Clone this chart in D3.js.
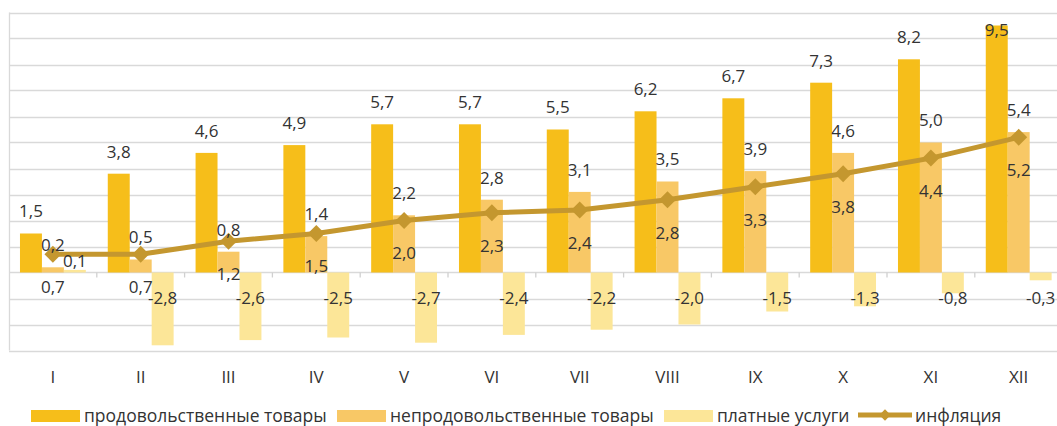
<!DOCTYPE html>
<html>
<head>
    <meta charset="utf-8">
    <script src="https://d3js.org/d3.v7.min.js"></script>
    <style>
        body { margin: 0; background: #fff; }
        text { font-family: "Open Sans", "Noto Sans", sans-serif; fill: #333; }
    </style>
</head>
<body>
    <div id="chart"></div>
    <script>
        const months = ["I", "II", "III", "IV", "V", "VI", "VII", "VIII", "IX", "X", "XI", "XII"];
        const food = [1.5, 3.8, 4.6, 4.9, 5.7, 5.7, 5.5, 6.2, 6.7, 7.3, 8.2, 9.5];
        const nonFood = [0.2, 0.5, 0.8, 1.4, 2.2, 2.8, 3.1, 3.5, 3.9, 4.6, 5.0, 5.4];
        const services = [0.1, -2.8, -2.6, -2.5, -2.7, -2.4, -2.2, -2.0, -1.5, -1.3, -0.8, -0.3];
        const inflation = [0.7, 0.7, 1.2, 1.5, 2.0, 2.3, 2.4, 2.8, 3.3, 3.8, 4.4, 5.2];
        const seriesNames = ["продовольственные товары", "непродовольственные товары", "платные услуги", "инфляция"];

        const W = 1057, H = 426;
        const colors = ["#F6BE1A", "#F8C866", "#FCE698"];
        const lineColor = "#C4972F";

        const svg = d3.select("#chart").append("svg")
            .attr("width", W).attr("height", H);

        const x = d3.scaleBand().domain(months).range([9, 1062.6]);
        const xs = d3.scaleBand().domain([0, 1, 2]).range([0, x.bandwidth()]).paddingOuter(0.5);
        const y = d3.scaleLinear().domain([-3, 10]).range([350.5, 12.5]);
        const fmt = v => d3.format(".1f")(v).replace(".", ",").replace("−", "-");

        // gridlines
        svg.append("g").selectAll("line")
            .data(d3.range(-3, 11))
            .enter().append("line")
            .attr("x1", 9).attr("x2", W)
            .attr("y1", d => Math.round(y(d)) + 0.5).attr("y2", d => Math.round(y(d)) + 0.5)
            .style("stroke", "#D9D9D9").style("stroke-width", 1.3);
        svg.append("line")
            .attr("x1", 9.5).attr("x2", 9.5).attr("y1", y(10)).attr("y2", y(-3))
            .style("stroke", "#D9D9D9").style("stroke-width", 1.3);

        // x axis ticks on zero line
        svg.append("g").selectAll("line")
            .data(months.slice(1))
            .enter().append("line")
            .attr("x1", d => x(d)).attr("x2", d => x(d))
            .attr("y1", y(0)).attr("y2", y(0) + 5)
            .style("stroke", "#D0D0D0").style("stroke-width", 1.3);

        // x labels
        svg.append("g").selectAll("text")
            .data(months)
            .enter().append("text")
            .attr("x", d => x(d) + x.bandwidth() / 2)
            .attr("y", 377)
            .attr("dy", "0.35em")
            .style("text-anchor", "middle")
            .style("font-size", "17px")
            .text(d => d);

        const barSeries = [food, nonFood, services];
        barSeries.forEach((vals, s) => {
            svg.append("g").selectAll("rect")
                .data(vals)
                .enter().append("rect")
                .attr("x", (d, i) => x(months[i]) + xs(s))
                .attr("width", xs.bandwidth())
                .attr("y", d => y(Math.max(0, d)))
                .attr("height", d => Math.abs(y(d) - y(0)))
                .style("fill", colors[s]);
        });

        // inflation line
        const line = d3.line()
            .x((d, i) => x(months[i]) + x.bandwidth() / 2)
            .y(d => y(d));
        svg.append("path")
            .datum(inflation)
            .attr("d", line)
            .style("fill", "none")
            .style("stroke", lineColor)
            .style("stroke-width", 5);
        svg.append("g").selectAll("path")
            .data(inflation)
            .enter().append("path")
            .attr("transform", (d, i) => `translate(${x(months[i]) + x.bandwidth() / 2},${y(d)}) rotate(45)`)
            .attr("d", "M-6,-6H6V6H-6Z")
            .style("fill", lineColor);

        // data labels (clamped so the top one stays inside the plot)
        const labels = svg.append("g").style("font-size", "17px").style("text-anchor", "middle");
        food.forEach((v, i) => {
            labels.append("text").attr("x", x(months[i]) + xs(0) + xs.bandwidth() / 2)
                .attr("y", Math.max(y(v) - 22, 30)).attr("dy", "0.35em").text(fmt(v));
        });
        nonFood.forEach((v, i) => {
            labels.append("text").attr("x", x(months[i]) + xs(1) + xs.bandwidth() / 2)
                .attr("y", y(v) - 22).attr("dy", "0.35em").text(fmt(v));
        });
        services.forEach((v, i) => {
            labels.append("text").attr("x", x(months[i]) + xs(2) + xs.bandwidth() / 2)
                .attr("y", v < 0 ? y(-1) : y(v) - 9).attr("dy", "0.35em").text(fmt(v));
        });
        inflation.forEach((v, i) => {
            labels.append("text").attr("x", x(months[i]) + x.bandwidth() / 2)
                .attr("y", y(v) + 33).attr("dy", "0.35em").text(fmt(v));
        });

        // legend
        const legendX = [31, 337, 664, 858];
        const legend = svg.append("g");
        seriesNames.forEach((name, i) => {
            const g = legend.append("g").attr("transform", `translate(${legendX[i]},416)`);
            if (i < 3) {
                g.append("rect").attr("x", 0).attr("y", -6).attr("width", 49).attr("height", 12)
                    .style("fill", colors[i]);
            } else {
                g.append("line").attr("x1", 0).attr("x2", 54).attr("y1", -1).attr("y2", -1)
                    .style("stroke", lineColor).style("stroke-width", 5);
                g.append("path").attr("transform", "translate(27,-1) rotate(45)")
                    .attr("d", "M-4,-4H4V4H-4Z").style("fill", lineColor);
            }
            g.append("text").attr("x", i < 3 ? 53 : 57).attr("y", 0).attr("dy", "0.35em")
                .style("font-size", "17.5px").text(name);
        });
    </script>
</body>
</html>
